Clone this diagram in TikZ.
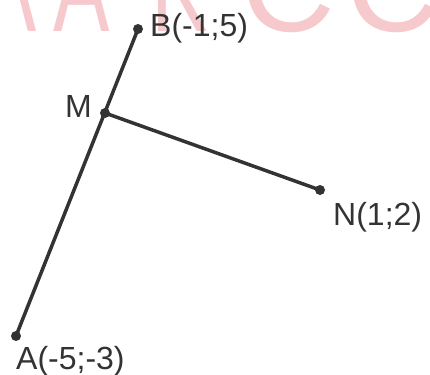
\documentclass[tikz,border=0pt]{standalone}
\usepackage{fontspec}
\setmainfont{Liberation Sans}
\usepackage{xcolor}
\usepackage{tikz}

\definecolor{seggray}{RGB}{51,51,51}
\definecolor{wmpink}{RGB}{246,201,204}

\tikzset{
  seg/.style={draw=seggray,line width=3.5pt},
  pt/.style={circle,fill=seggray,inner sep=0pt,minimum size=10pt},
  lbl/.style={text=seggray,inner sep=0pt,anchor=base west,font=\fontsize{32}{38}\selectfont},
  wm/.style={text=wmpink,inner sep=0pt,anchor=base,font=\fontsize{130}{140}\selectfont}
}

\begin{document}
\begin{tikzpicture}[x=1pt,y=-1pt]
    \useasboundingbox (0,0) rectangle (430,374);
    % watermark
    \begin{scope}
      \clip (0,0) rectangle (430,374);
      \foreach \xx/\ch/\sc in {9/\symbol{"039B}/.65,82/A/.65,180/K/.65,288/C/1,393/C/1}{
        \node[wm,xscale=\sc] (w\xx) at (\xx,32) {\ch};
      }
    \end{scope}
    % points
    \node[pt] (A) at (16,336) {};
    \node[pt] (B) at (138,29) {};
    \node[pt] (M) at (105,113) {};
    \node[pt] (N) at (320,190) {};
    \draw[seg] (A.center) -- (B.center);
    \draw[seg] (M.center) -- (N.center);
    % labels
    \node[lbl] (lA) at (16,369) {A(-5;-3)};
    \node[lbl] (lB) at (150,37) {B(-1;5)};
    \node[lbl] (lM) at (65,118) {M};
    \node[lbl] (lN) at (333,225) {N(1;2)};
\end{tikzpicture}
\end{document}
